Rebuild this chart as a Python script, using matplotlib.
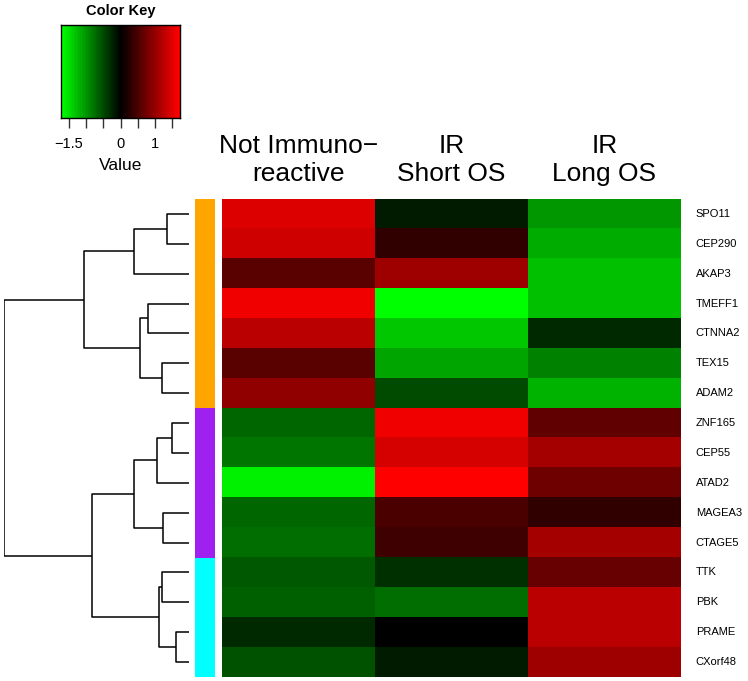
import numpy as np
import matplotlib
matplotlib.use("Agg")
import matplotlib.pyplot as plt
from matplotlib.colors import LinearSegmentedColormap

plt.rcParams['font.family'] = ['Liberation Sans', 'DejaVu Sans']

# data
genes = ["SPO11", "CEP290", "AKAP3", "TMEFF1", "CTNNA2", "TEX15", "ADAM2",
         "ZNF165", "CEP55", "ATAD2", "MAGEA3", "CTAGE5",
         "TTK", "PBK", "PRAME", "CXorf48"]
columns = ["Not Immuno\u2212\nreactive", "IR\nShort OS", "IR\nLong OS"]
not_ir = [1.49, 1.39, 0.58, 1.63, 1.26, 0.61, 0.98,
          -0.68, -0.78, -1.63, -0.71, -0.75,
          -0.58, -0.64, -0.27, -0.54]
ir_short = [-0.20, 0.31, 1.05, -1.73, -1.32, -1.09, -0.51,
            1.63, 1.42, 1.73, 0.51, 0.41,
            -0.31, -0.75, 0.00, -0.17]
ir_long = [-1.02, -1.15, -1.29, -1.29, -0.27, -0.88, -1.22,
           0.64, 1.09, 0.75, 0.34, 1.09,
           0.68, 1.26, 1.26, 1.05]
groups = ["orange"] * 7 + ["#A020F0"] * 5 + ["cyan"] * 4

# dendrogram merges: (left, right, height); leaves 0..15, clusters from 16
merges = [
    (0, 1, 22), (16, 2, 55),
    (3, 4, 41), (5, 6, 27), (18, 19, 49),
    (17, 20, 105),
    (7, 8, 17), (22, 9, 32), (10, 11, 26), (23, 24, 55),
    (12, 13, 27), (14, 15, 13), (26, 27, 30),
    (25, 28, 97),
    (21, 29, 185),
]

key_min, key_max = -1.73, 1.73
key_ticks = [-1.5, -1.0, -0.5, 0.0, 0.5, 1.0, 1.5]
key_labels = ["\u22121.5", "", "", "0", "", "1", ""]

W, H = 748, 681
fig = plt.figure(figsize=(W / 100, H / 100), dpi=100)

def box(x0, y0, x1, y1):
    # pixel box -> figure fraction rect
    return [x0 / W, (H - y1) / H, (x1 - x0) / W, (y1 - y0) / H]

cmap = LinearSegmentedColormap.from_list("gr", ["#00FF00", "#000000", "#FF0000"], N=75)
n = len(genes)
mat = np.column_stack([not_ir, ir_short, ir_long])

# heatmap
ax = fig.add_axes(box(222, 199, 681, 677))
ax.imshow(mat, cmap=cmap, vmin=key_min, vmax=key_max, aspect='auto',
          interpolation='nearest')
ax.set_xlim(-0.5, 2.5)
ax.set_ylim(n - 0.5, -0.5)
ax.set_xticks([])
ax.set_yticks([])
for s in ax.spines.values():
    s.set_visible(False)
for i, g in enumerate(genes):
    ax.text(1.032, i, g, transform=ax.get_yaxis_transform(),
            va='center', ha='left', fontsize=8)
for j, c in enumerate(columns):
    ax.text(j, -0.5 - 0.42, c, ha='center', va='bottom', fontsize=19,
            linespacing=1.25)

# side colours
axs = fig.add_axes(box(195, 199, 215, 677))
for i, col in enumerate(groups):
    axs.bar(0, 1, bottom=i - 0.5, width=1, color=col, edgecolor='none')
axs.set_xlim(-0.5, 0.5)
axs.set_ylim(n - 0.5, -0.5)
axs.axis('off')

# dendrogram
axd = fig.add_axes(box(4, 199, 189, 677))
pos = {i: float(i) for i in range(n)}
hgt = {i: 0.0 for i in range(n)}
for k, (a, b, h) in enumerate(merges):
    axd.plot([hgt[a], h, h, hgt[b]], [pos[a], pos[a], pos[b], pos[b]],
             color='black', lw=1.1, solid_capstyle='butt')
    pos[n + k] = (pos[a] + pos[b]) / 2
    hgt[n + k] = h
axd.set_xlim(185, 0)
axd.set_ylim(n - 0.5, -0.5)
axd.axis('off')

# colour key
axk = fig.add_axes(box(61, 25, 180, 118))
grad = np.linspace(key_min, key_max, 300).reshape(1, -1)
axk.imshow(grad, cmap=cmap, vmin=key_min, vmax=key_max, aspect='auto',
           extent=[key_min, key_max, 0, 1], interpolation='nearest')
axk.set_xlim(key_min, key_max)
axk.set_yticks([])
axk.set_xticks(key_ticks)
axk.set_xticklabels(key_labels, fontsize=10.5)
axk.tick_params(axis='x', length=7, width=1, pad=7, color='#333333')
axk.set_xlabel("Value", fontsize=12.5, labelpad=5)
axk.set_title("Color Key", fontsize=10.5, fontweight='bold', pad=7)
for s in axk.spines.values():
    s.set_linewidth(1)

fig.savefig("out.png", dpi=100)
